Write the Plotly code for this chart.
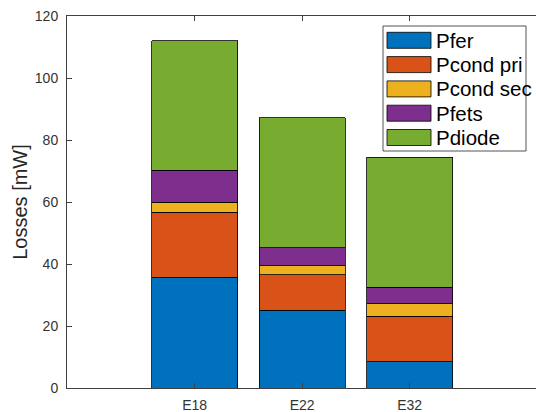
import plotly.graph_objects as go

categories = ["E18", "E22", "E32"]
series_names = ["Pfer", "Pcond pri", "Pcond sec", "Pfets", "Pdiode"]
pfer = [35.7, 25.1, 8.4]
pcond_pri = [21.0, 11.4, 14.7]
pcond_sec = [3.3, 3.0, 4.1]
pfets = [10.2, 5.8, 5.3]
pdiode = [41.8, 41.8, 41.9]
series_values = [pfer, pcond_pri, pcond_sec, pfets, pdiode]
colors = ["#0072BD", "#D95319", "#EDB120", "#7E2F8E", "#77AC30"]
y_ticks = [0, 20, 40, 60, 80, 100, 120]

W, H = 536, 412
L, R, T, B = 67, 0, 16, 24
pw, ph = W - L - R, H - T - B

fig = go.Figure()
for name, vals, col in zip(series_names, series_values, colors):
    fig.add_trace(go.Bar(
        x=categories, y=vals, name=name,
        marker=dict(color=col, line=dict(color="#000000", width=0.8)),
        showlegend=False,
    ))

# custom MATLAB-style legend (swatches + text) in paper coordinates
def px2x(px):
    return (px - L) / pw

def py2y(py):
    return (H - B - py) / ph

shapes = []
annotations = []
box = dict(x0=383, x1=526, y0=26, y1=151)
shapes.append(dict(type="rect", xref="paper", yref="paper",
                   x0=px2x(box["x0"]), x1=px2x(box["x1"]),
                   y0=py2y(box["y1"]), y1=py2y(box["y0"]),
                   line=dict(color="#262626", width=0.8), fillcolor="white",
                   layer="above"))
row0, rowstep = 40.3, 24.3
for i, (name, col) in enumerate(zip(series_names, colors)):
    cy = row0 + rowstep * i
    shapes.append(dict(type="rect", xref="paper", yref="paper",
                       x0=px2x(387), x1=px2x(431),
                       y0=py2y(cy + 8), y1=py2y(cy - 8),
                       line=dict(color="#000000", width=0.8), fillcolor=col,
                       layer="above"))
    annotations.append(dict(xref="paper", yref="paper", x=px2x(434), y=py2y(cy),
                            text=name, showarrow=False, xanchor="left",
                            yanchor="middle",
                            font=dict(family="Liberation Sans, Arial", size=20.5,
                                      color="#000000")))

fig.update_layout(
    width=W, height=H,
    margin=dict(l=L, r=R, t=T, b=B, pad=0, autoexpand=False),
    paper_bgcolor="white", plot_bgcolor="white",
    barmode="stack", bargap=0.2,
    font=dict(family="Liberation Sans, Arial", size=14, color="#262626"),
    shapes=shapes, annotations=annotations,
    xaxis=dict(type="category", categoryorder="array", categoryarray=categories,
               range=[-1.188, 3.175], showline=True, linecolor="#404040",
               linewidth=1, mirror="ticks", ticks="inside", ticklen=5,
               tickcolor="#404040", showgrid=False, zeroline=False,
               ticklabelstandoff=4, automargin=False,
               tickfont=dict(size=14, color="#333333")),
    yaxis=dict(range=[0, 120], tickvals=y_ticks, showline=True,
               linecolor="#404040", linewidth=1, ticks="inside", ticklen=5,
               tickcolor="#404040", showgrid=False, zeroline=False,
               ticklabelstandoff=5, automargin=False,
               tickfont=dict(size=14, color="#333333"),
               title=dict(text="Losses [mW]", standoff=1,
                          font=dict(size=20, color="#262626"))),
)

fig.write_html("out.html", config={"displayModeBar": False},
               post_script="document.body.style.margin='0';document.body.style.overflow='hidden';")
